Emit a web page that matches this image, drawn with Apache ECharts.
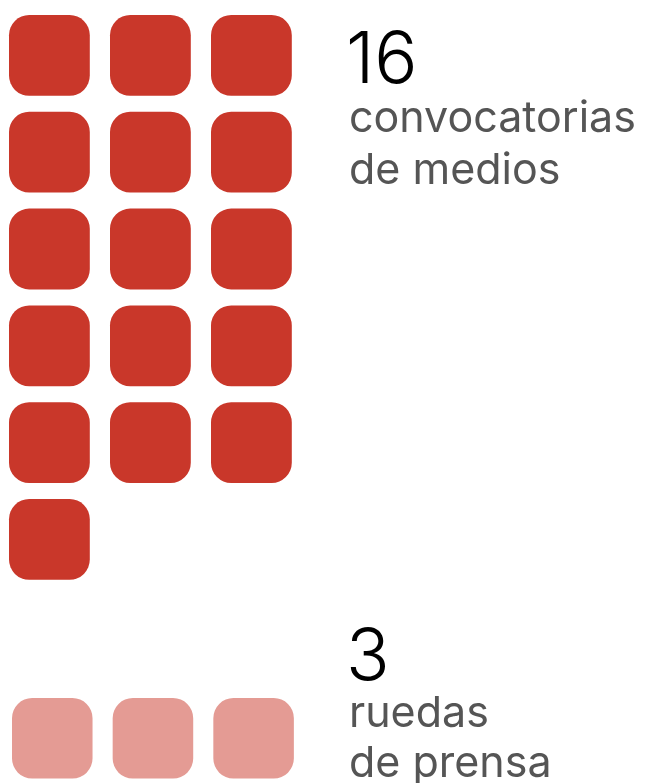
<!DOCTYPE html>
<html>
<head>
<meta charset="utf-8">
<style>
  html, body { margin: 0; padding: 0; background: #fff; }
  #chart { width: 647px; height: 783px; }
</style>
<script src="https://cdn.jsdelivr.net/npm/echarts@6/dist/echarts.min.js"></script>
</head>
<body>
<div id="chart"></div>
<script>
// Media events, counted by type
const categories = ['convocatorias\nde medios', 'ruedas\nde prensa'];
const counts = [16, 3];
const colors = ['#C9372A', 'rgba(201,55,42,0.5)'];
const perRow = 3;

// One unit square per event, laid out row by row
function cells(n) {
  const out = [];
  for (let i = 0; i < n; i++) out.push([i % perRow, Math.floor(i / perRow)]);
  return out;
}

const rowsOf = n => Math.ceil(n / perRow);

const chart = echarts.init(document.getElementById('chart'), null, { renderer: 'canvas' });

const FONT = 'Inter, "Noto Sans", sans-serif';

function renderSquare(params, api) {
  const p = api.coord([api.value(0), api.value(1)]);
  const side = api.size([0.8, 0])[0];
  return {
    type: 'rect',
    shape: { x: p[0], y: p[1], width: side, height: side, r: side * 0.25 },
    style: { fill: api.visual('color') }
  };
}

const grids = [
  { left: 9, top: 15, width: 303, height: 96.8 * rowsOf(counts[0]) },
  { left: 12, top: 698, width: 302, height: 97 * rowsOf(counts[1]) }
];

chart.setOption({
  animation: false,
  grid: grids,
  xAxis: grids.map((g, i) => ({ type: 'value', gridIndex: i, min: 0, max: perRow, show: false })),
  yAxis: grids.map((g, i) => ({ type: 'value', gridIndex: i, min: 0, max: rowsOf(counts[i]), inverse: true, show: false })),
  series: counts.map((c, i) => ({
    type: 'custom',
    xAxisIndex: i,
    yAxisIndex: i,
    renderItem: renderSquare,
    itemStyle: { color: colors[i] },
    data: cells(c)
  })),
  graphic: [
    { type: 'text', left: 346, top: 25, style: { text: String(counts[0]), font: '300 72px ' + FONT, fill: '#000' } },
    { type: 'text', left: 349, top: 93, style: { text: categories[0], font: '400 43px ' + FONT, lineHeight: 52, fill: '#555' } },
    { type: 'text', left: 346, top: 622, style: { text: String(counts[1]), font: '300 72px ' + FONT, fill: '#000' } },
    { type: 'text', left: 349, top: 689, style: { text: categories[1], font: '400 43px ' + FONT, lineHeight: 50, fill: '#555' } }
  ]
});
</script>
</body>
</html>
